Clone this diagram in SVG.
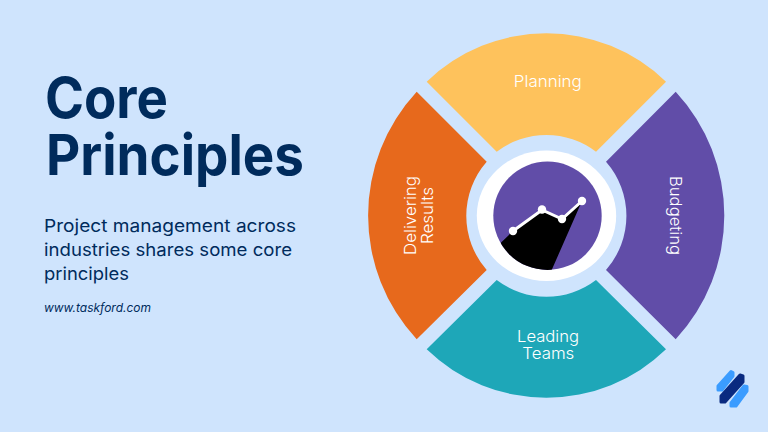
<svg xmlns="http://www.w3.org/2000/svg" width="768" height="432" viewBox="0 0 768 432">
<style>
text{font-family:"Inter","Noto Sans","Liberation Sans",sans-serif}
.title{font-size:56px;font-weight:700;fill:#002b5c}
.body{font-size:17.5px;fill:#002b5c}
.url{font-size:11.5px;font-style:italic;fill:#002b5c}
.lab{font-size:16.5px;font-weight:300;fill:#fff;text-anchor:middle}
</style>
<defs><clipPath id="disc"><circle cx="547.5" cy="215.8" r="54.2"/></clipPath></defs>
<rect width="768" height="432" fill="#cfe4fd"/>
<g id="heading">
<text class="title" x="45" y="118" textLength="123" lengthAdjust="spacingAndGlyphs">Core</text>
<text class="title" x="46" y="175" textLength="258" lengthAdjust="spacingAndGlyphs">Principles</text>
</g>
<g id="description">
<text class="body" x="44" y="231.5" textLength="252" lengthAdjust="spacingAndGlyphs">Project management across</text>
<text class="body" x="44" y="255.5" textLength="248" lengthAdjust="spacingAndGlyphs">industries shares some core</text>
<text class="body" x="44" y="279.5" textLength="85" lengthAdjust="spacingAndGlyphs">principles</text>
</g>
<g id="url"><text class="url" x="44" y="312" textLength="107" lengthAdjust="spacingAndGlyphs">www.taskford.com</text></g>
<g id="planning">
<path d="M426.7 81.7A172 172 0 0 1 666 81.7L596 151.7A82 82 0 0 0 496.7 151.7Z" fill="#fec25c"/>
<text class="lab" x="547.8" y="86.7" textLength="68" lengthAdjust="spacingAndGlyphs">Planning</text>
</g>
<g id="budgeting">
<path d="M675.7 91.7A182 182 0 0 1 675.7 339.3L606 270A82 82 0 0 0 606 161.7Z" fill="#614da8"/>
<text class="lab" transform="translate(670 215.5) rotate(90)" textLength="79" lengthAdjust="spacingAndGlyphs">Budgeting</text>
</g>
<g id="leading-teams">
<path d="M426.7 349.3A172 172 0 0 0 666 349.3L596 280A82 82 0 0 1 496.7 280Z" fill="#1ea7b8"/>
<text class="lab" x="548" y="341.7" textLength="62" lengthAdjust="spacingAndGlyphs">Leading</text>
<text class="lab" x="548.3" y="359.3" textLength="52" lengthAdjust="spacingAndGlyphs">Teams</text>
</g>
<g id="delivering-results">
<path d="M416.7 91.7A182 182 0 0 0 416.7 339.3L486.7 270A82 82 0 0 1 486.7 161.7Z" fill="#e7691c"/>
<text class="lab" transform="translate(416 215.5) rotate(-90)" textLength="79" lengthAdjust="spacingAndGlyphs">Delivering</text>
<text class="lab" transform="translate(433 215.5) rotate(-90)" textLength="57" lengthAdjust="spacingAndGlyphs">Results</text>
</g>
<g id="hub">
<ellipse cx="546.5" cy="215.8" rx="69.7" ry="65.2" fill="#fff"/>
<circle cx="547.5" cy="215.8" r="54.2" fill="#614da8"/>
<path d="M488 255L513 231L542 210L562 219L582 201L542.900 290L488 290Z" fill="#000" clip-path="url(#disc)"/>
<polyline points="513,231 542,210 562,219 582,201" fill="none" stroke="#fff" stroke-width="3"/>
<circle cx="513" cy="231" r="4.2" fill="#fff"/>
<circle cx="542" cy="209.500" r="4.2" fill="#fff"/>
<circle cx="562" cy="219" r="4.2" fill="#fff"/>
<circle cx="582" cy="201" r="4.2" fill="#fff"/>
</g>
<g id="logo" stroke-linejoin="round" stroke-width="3">
<path d="M718 386L731 371.500L733 372.500L733 376L722 390L718 390Z" fill="#3b9cff" stroke="#3b9cff"/>
<path d="M721 396L740 375L743 376L743 382L725 402L721 402Z" fill="#0a2a80" stroke="#0a2a80"/>
<path d="M731 403L744 386L747 386.500L747 391L736 406L731 406Z" fill="#3b9cff" stroke="#3b9cff"/>
</g>
</svg>
